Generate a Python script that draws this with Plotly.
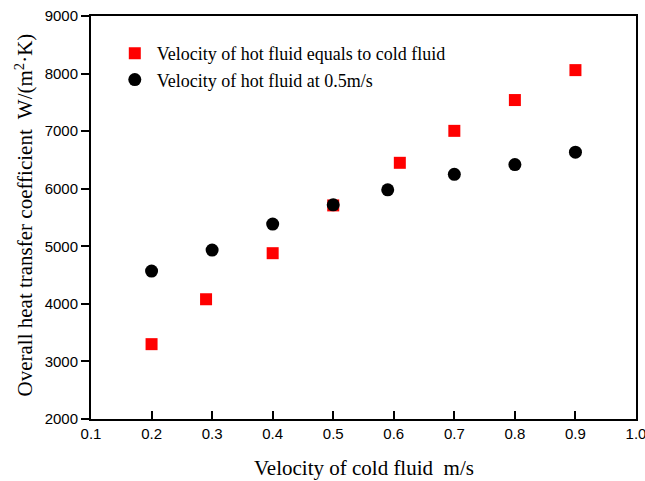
import plotly.graph_objects as go

x_equal = [0.2, 0.29, 0.4, 0.5, 0.61, 0.7, 0.8, 0.9]
y_equal = [3300, 4080, 4880, 5710, 6450, 7005, 7540, 8060]
x_fixed = [0.2, 0.3, 0.4, 0.5, 0.59, 0.7, 0.8, 0.9]
y_fixed = [4570, 4935, 5385, 5720, 5980, 6250, 6420, 6635]
name_equal = "Velocity of hot fluid equals to cold fluid"
name_fixed = "Velocity of hot fluid at 0.5m/s"
x_ticks = [0.1, 0.2, 0.3, 0.4, 0.5, 0.6, 0.7, 0.8, 0.9, 1.0]
y_ticks = [2000, 3000, 4000, 5000, 6000, 7000, 8000, 9000]
x_title = "Velocity of cold fluid  m/s"
y_title = "Overall heat transfer coefficient  W/(m<sup>2</sup>·K)"

fig = go.Figure()
fig.add_trace(go.Scatter(x=x_equal, y=y_equal, mode="markers", name=name_equal,
                         legendgroup="a",
                         marker=dict(symbol="square", size=12, color="#ff0000")))
fig.add_trace(go.Scatter(x=x_fixed, y=y_fixed, mode="markers", name=name_fixed,
                         legendgroup="b",
                         marker=dict(symbol="circle", size=13, color="#000000")))

fig.update_layout(
    width=645, height=481,
    margin=dict(l=91, r=9, t=16, b=62, autoexpand=False),
    paper_bgcolor="white", plot_bgcolor="white",
    showlegend=True,
    legend=dict(x=0.04, y=0.953, xanchor="left", yanchor="top",
                font=dict(family="Liberation Serif", size=18, color="black"),
                bgcolor="rgba(0,0,0,0)", tracegroupgap=0, itemwidth=34,
                traceorder="grouped"),
    xaxis=dict(range=[0.1, 1.0], tickvals=x_ticks,
               ticktext=[f"{v:.1f}" for v in x_ticks],
               showgrid=False, zeroline=False, automargin=False,
               showline=True, linecolor="black", linewidth=2, mirror=True,
               ticks="inside", ticklen=8, tickwidth=2, tickcolor="black",
               ticklabeloverflow="allow",
               tickfont=dict(family="Liberation Sans", size=15, color="black")),
    yaxis=dict(range=[2000, 9000], tickvals=y_ticks,
               showgrid=False, zeroline=False, automargin=False,
               showline=True, linecolor="black", linewidth=2, mirror=True,
               ticks="outside", ticklen=8, tickwidth=2, tickcolor="black",
               tickfont=dict(family="Liberation Sans", size=15, color="black")),
    annotations=[
        dict(text=x_title, xref="paper", yref="paper", x=0.5, y=0,
             xanchor="center", yanchor="middle", yshift=-49, showarrow=False,
             font=dict(family="Liberation Serif", size=21, color="black")),
        dict(text=y_title, xref="paper", yref="paper", x=0, y=0.505,
             xanchor="center", yanchor="middle", xshift=-67, textangle=-90,
             showarrow=False,
             font=dict(family="Liberation Serif", size=21, color="black")),
    ],
)

fig.write_html("out.html",
               config={"displayModeBar": False},
               post_script="document.body.style.margin='0px';document.body.style.overflow='hidden';")
